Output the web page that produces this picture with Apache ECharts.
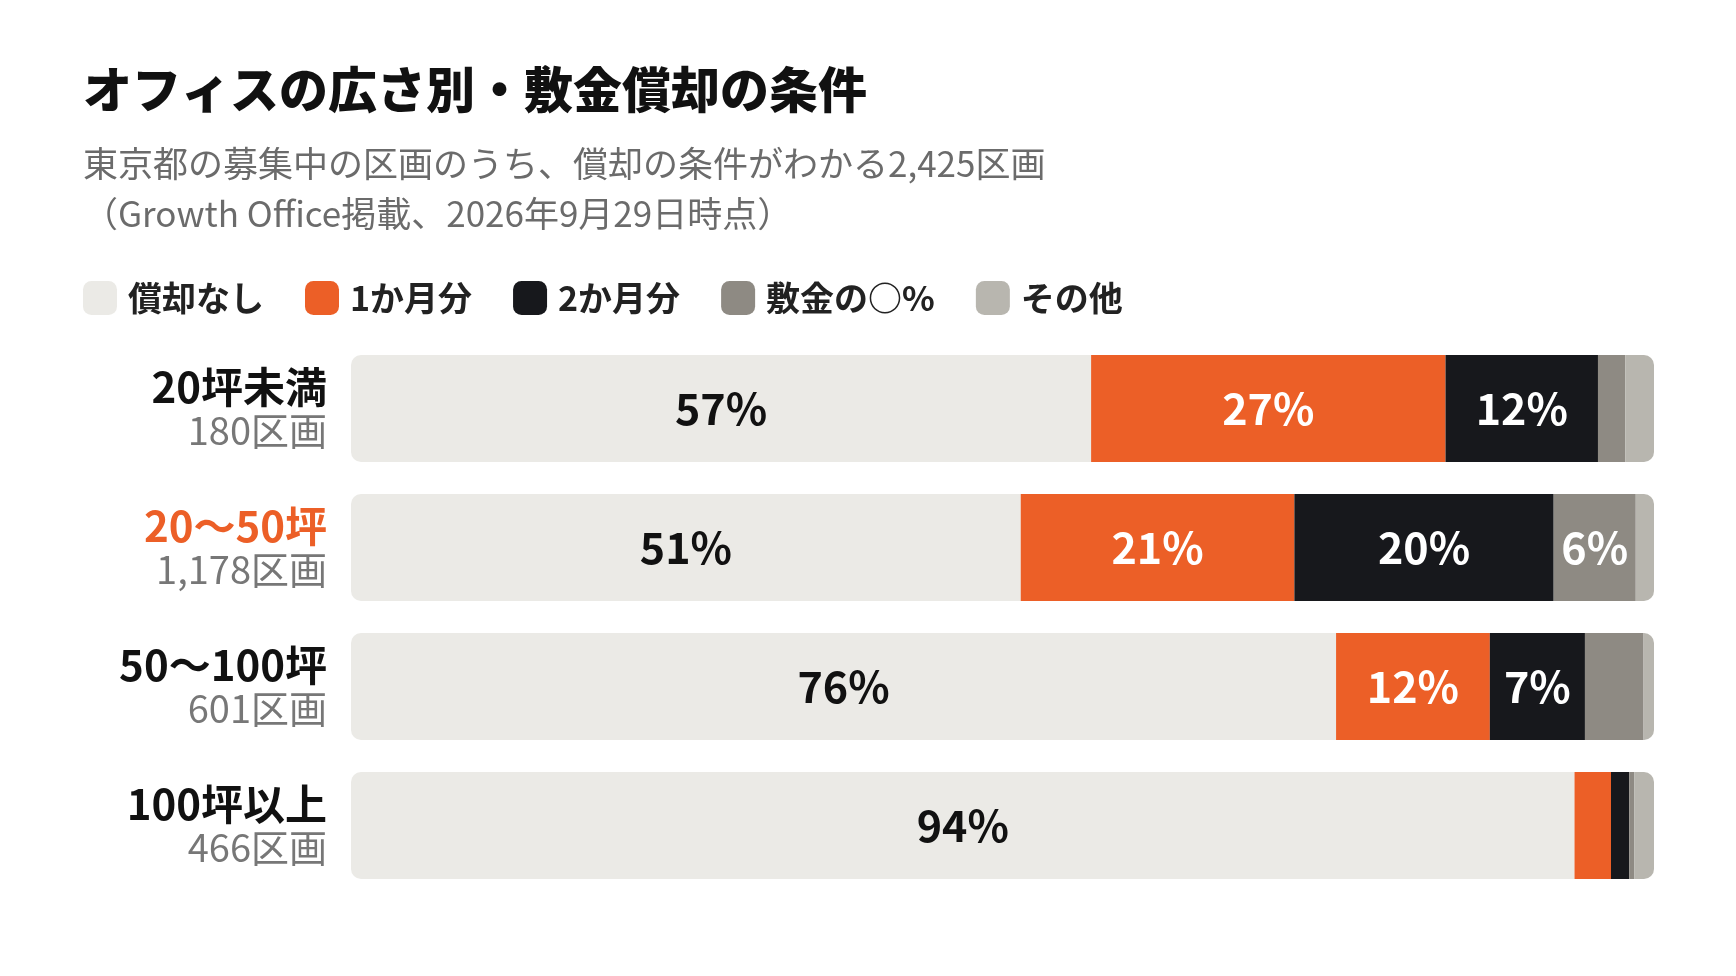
<!DOCTYPE html>
<html>
<head>
<meta charset="utf-8">
<script src="https://cdn.jsdelivr.net/npm/echarts@6/dist/echarts.min.js"></script>
<style>
  html, body { margin: 0; padding: 0; background: #fff; }
  #chart { width: 1736px; height: 976px; }
</style>
</head>
<body>
<div id="chart"></div>
<script>
// 区画の広さ（上から順に）
var categories = ['20坪未満', '20〜50坪', '50〜100坪', '100坪以上'];
var counts = ['180区画', '1,178区画', '601区画', '466区画'];

// 償却の条件ごとの割合（%）
var seriesNames = ['償却なし', '1か月分', '2か月分', '敷金の○%', 'その他'];
var noAmort   = [56.8, 51.4, 75.6, 93.9];
var oneMonth  = [27.2, 21.0, 11.8, 2.8];
var twoMonth  = [11.7, 19.9, 7.3, 1.4];
var depositPc = [2.1, 6.3, 4.5, 0.4];
var others    = [2.2, 1.4, 0.8, 1.5];

var colors = ['#EBEAE6', '#EC5F27', '#17181C', '#8E8A83', '#B8B6AF'];
var labelColors = ['#111111', '#ffffff', '#ffffff', '#ffffff', '#ffffff'];
var highlightIndex = 1;

var font = '"Noto Sans CJK JP", "Noto Sans", sans-serif';
var values = [noAmort, oneMonth, twoMonth, depositPc, others];

var series = values.map(function (data, i) {
    var radius = 0;
    if (i === 0) radius = [10, 0, 0, 10];
    if (i === values.length - 1) radius = [0, 10, 10, 0];
    return {
        name: seriesNames[i],
        type: 'bar',
        stack: 'total',
        barWidth: 107,
        data: data,
        itemStyle: { color: colors[i], borderRadius: radius },
        emphasis: { disabled: true },
        label: {
            show: true,
            position: 'inside',
            fontFamily: font,
            fontWeight: 'bold',
            fontSize: 43,
            color: labelColors[i],
            formatter: function (p) {
                return p.value >= 5 ? Math.round(p.value) + '%' : '';
            }
        }
    };
});

var chart = echarts.init(document.getElementById('chart'));
chart.setOption({
    animation: false,
    backgroundColor: '#ffffff',
    title: [{
        text: 'オフィスの広さ別・敷金償却の条件',
        left: 78,
        top: 56,
        textStyle: { fontFamily: font, fontWeight: 900, fontSize: 49, color: '#111111', lineHeight: 56 }
    }, {
        text: '東京都の募集中の区画のうち、償却の条件がわかる2,425区画\n（Growth Office掲載、2026年9月29日時点）',
        left: 78,
        top: 134,
        textStyle: { fontFamily: font, fontWeight: 'normal', fontSize: 35, color: '#6b6b6b', lineHeight: 50 }
    }],
    legend: {
        left: 78,
        top: 276,
        itemWidth: 34,
        itemHeight: 34,
        itemGap: 41,
        icon: 'roundRect',
        selectedMode: false,
        textStyle: { fontFamily: font, fontWeight: 'bold', fontSize: 34, color: '#222222', padding: [0, 0, 0, 6] },
        data: seriesNames
    },
    grid: { left: 351, right: 82, top: 339, bottom: 81, containLabel: false },
    xAxis: { type: 'value', min: 0, max: 100, show: false },
    yAxis: {
        type: 'category',
        inverse: true,
        data: categories,
        axisLine: { show: false },
        axisTick: { show: false },
        axisLabel: {
            margin: 24,
            formatter: function (value, index) {
                var style = index === highlightIndex ? 'nameHi' : 'name';
                return '{' + style + '|' + value + '}\n{count|' + counts[index] + '}';
            },
            rich: {
                name: { fontFamily: font, fontWeight: 'bold', fontSize: 42, color: '#111111', lineHeight: 44, align: 'right' },
                nameHi: { fontFamily: font, fontWeight: 'bold', fontSize: 42, color: '#EC5F27', lineHeight: 44, align: 'right' },
                count: { fontFamily: font, fontSize: 38, color: '#777777', lineHeight: 42, align: 'right' }
            }
        }
    },
    series: series
});
</script>
</body>
</html>
